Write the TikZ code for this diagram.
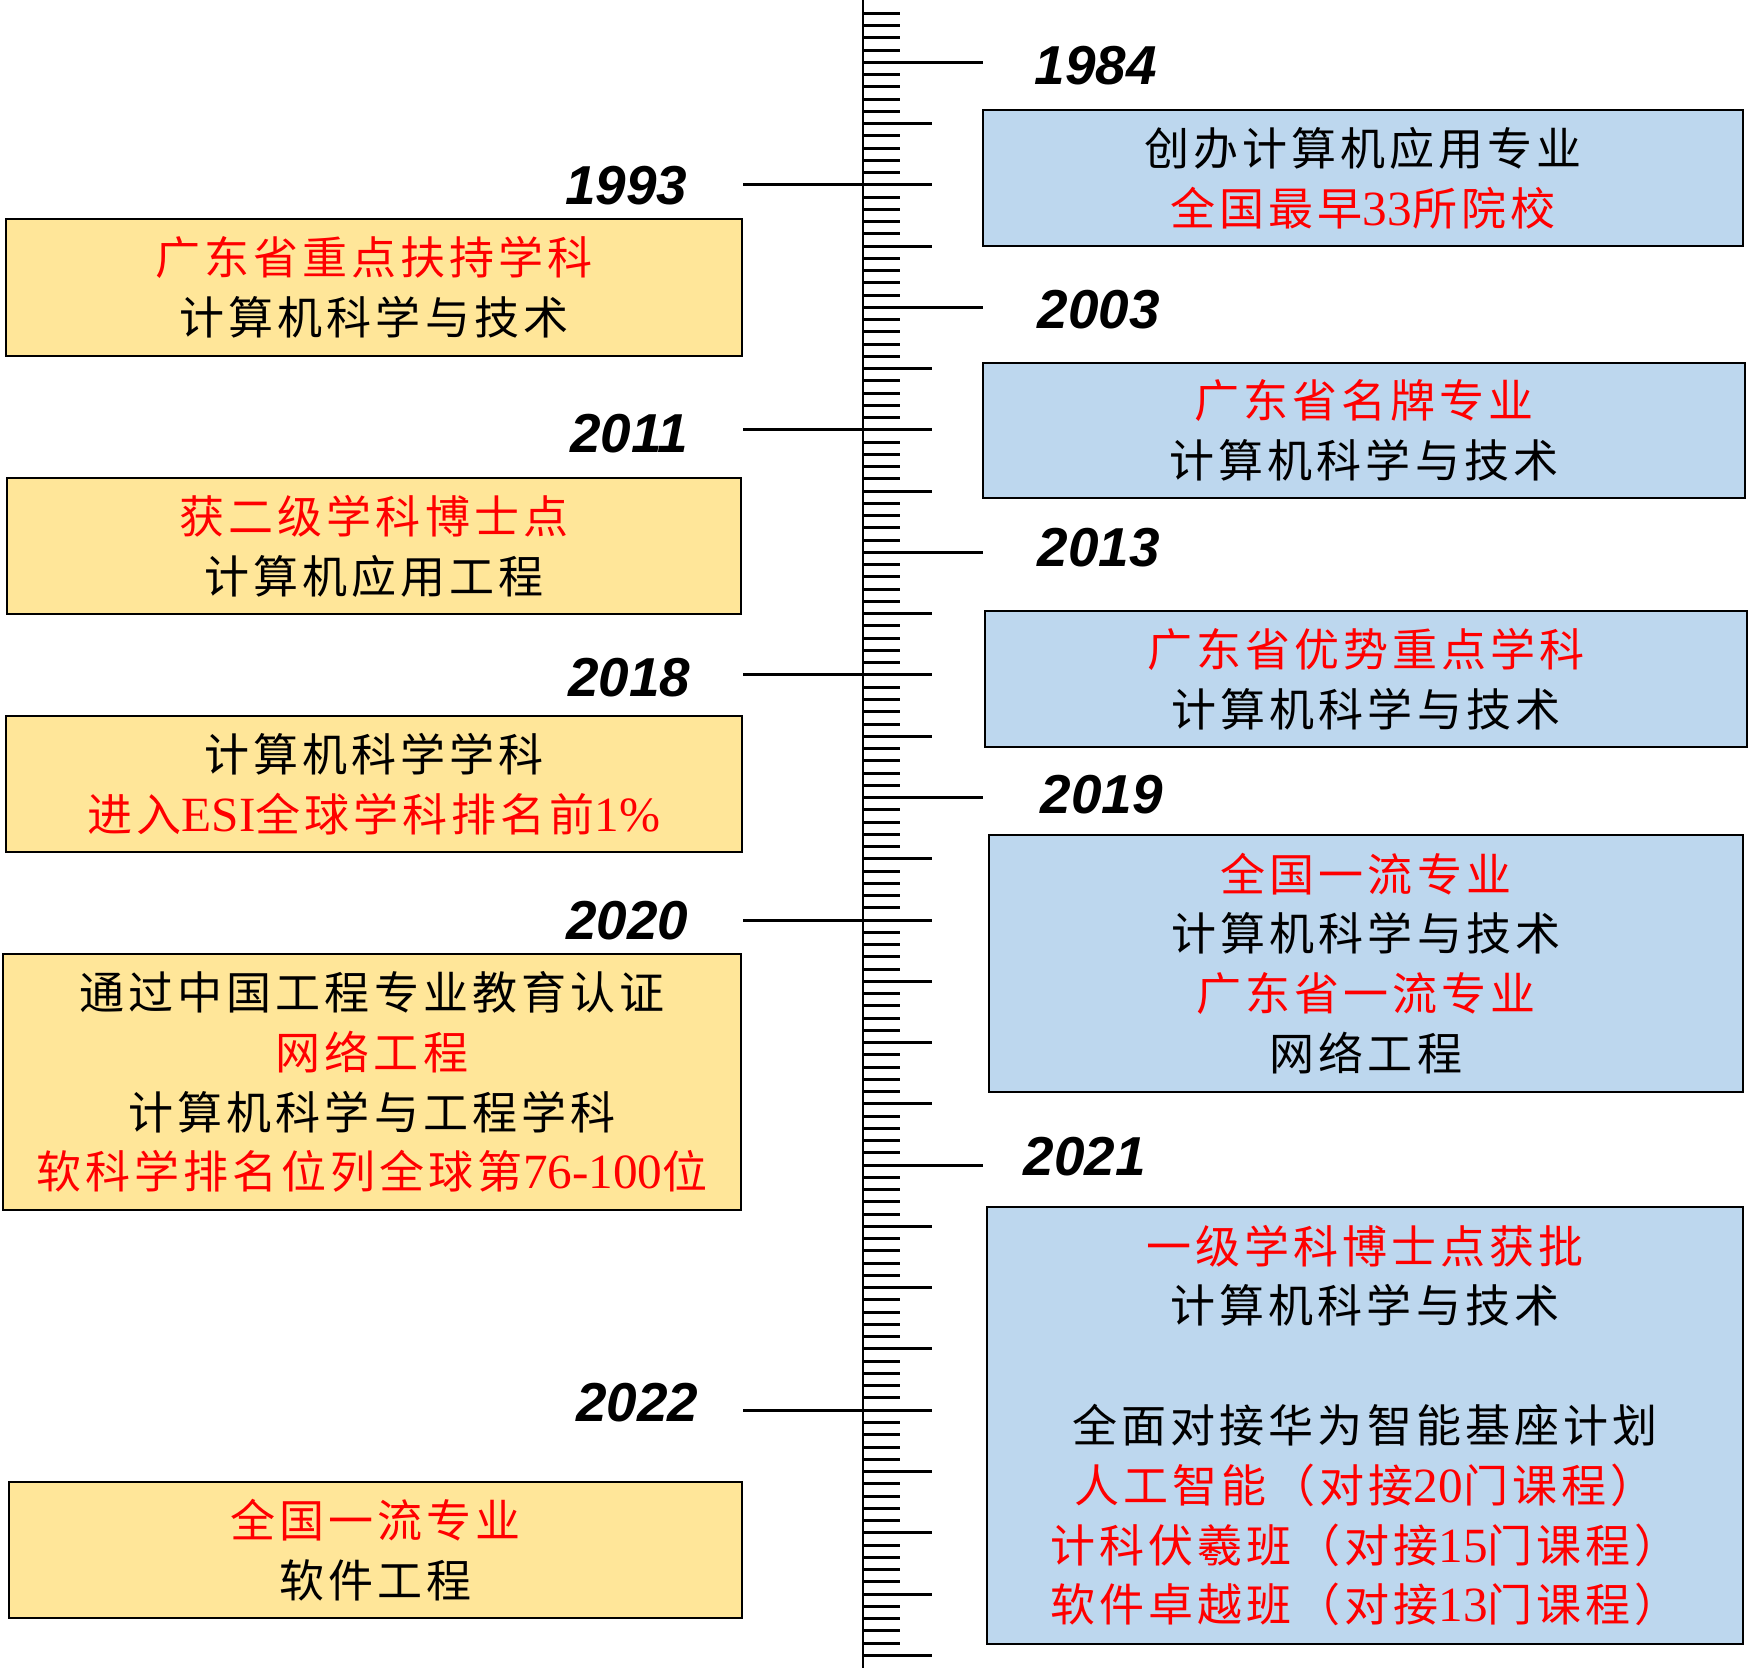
\documentclass[tikz,border=0pt]{standalone}
\usepackage{fontspec}
\newfontfamily\cjk[LetterSpace=9]{Noto Sans CJK SC}
\newfontfamily\yearfont{Liberation Sans}
\newfontfamily\latin{Liberation Serif}
\definecolor{boxblue}{RGB}{189,215,238}
\definecolor{boxyellow}{RGB}{255,230,153}
\newcommand{\lat}[1]{{\latin\fontsize{14}{17}\selectfont #1}}
\newcommand{\hl}[1]{\textcolor{red}{#1}}
\tikzset{
    rule/.style = {line width=0.85pt},
    entry/.style = {draw, line width=0.6pt, align=center, inner sep=0pt,
        font=\cjk\fontsize{12.8}{17}\selectfont},
    rightentry/.style = {entry, fill=boxblue},
    leftentry/.style = {entry, fill=boxyellow},
    year/.style = {inner sep=0pt, font=\yearfont\bfseries\itshape\fontsize{15.6}{17}\selectfont}
}
\begin{document}
\begin{tikzpicture}[x=0.01cm, y=-0.01cm]
    \useasboundingbox (0,0) rectangle (1750,1671);
    \def\rulex{863}
    \draw[rule] (\rulex,0) -- (\rulex,1668);
    \foreach \i in {0,...,134}
    {
        \draw[rule] (\rulex, {13.3+12.254*\i}) -- (900, {13.3+12.254*\i});
    }
    \foreach \j in {0,...,26}
    {
        \draw[rule] (\rulex, {62.3+61.27*\j}) -- (932, {62.3+61.27*\j});
    }
    \foreach \yr/\j in {1984/0, 2003/4, 2013/8, 2019/12, 2021/18}
    {
        \coordinate (t\yr) at (\rulex, {62.3+61.27*\j});
        \coordinate (e\yr) at (983, {62.3+61.27*\j});
        \draw[rule] (t\yr) -- (e\yr);
    }
    \foreach \yr/\j in {1993/2, 2011/6, 2018/10, 2020/14, 2022/22}
    {
        \coordinate (t\yr) at (\rulex, {62.3+61.27*\j});
        \coordinate (e\yr) at (743, {62.3+61.27*\j});
        \draw[rule] (e\yr) -- (t\yr);
    }

    \node[year, anchor=west] (y1984) at (1034,66) {1984};
    \node[year, anchor=west] (y2003) at (1037,310) {2003};
    \node[year, anchor=west] (y2013) at (1037,548) {2013};
    \node[year, anchor=west] (y2019) at (1040,795) {2019};
    \node[year, anchor=west] (y2021) at (1023,1157) {2021};
    \node[year, anchor=east] (y1993) at (688,186) {1993};
    \node[year, anchor=east] (y2011) at (689,434) {2011};
    \node[year, anchor=east] (y2018) at (691,678) {2018};
    \node[year, anchor=east] (y2020) at (689,921) {2020};
    \node[year, anchor=east] (y2022) at (699,1403) {2022};

    \node[rightentry, minimum width=7.60cm, minimum height=1.36cm] (b1984) at (1363,178)
        {创办计算机应用专业\\\hl{全国最早\lat{33}所院校}};
    \node[rightentry, minimum width=7.62cm, minimum height=1.35cm] (b2003) at (1364,430.5)
        {\hl{广东省名牌专业}\\计算机科学与技术};
    \node[rightentry, minimum width=7.61cm, minimum height=1.36cm] (b2013) at (1366,679)
        {\hl{广东省优势重点学科}\\计算机科学与技术};
    \node[rightentry, minimum width=7.54cm, minimum height=2.57cm] (b2019) at (1366,963.5)
        {\hl{全国一流专业}\\计算机科学与技术\\\hl{广东省一流专业}\\网络工程};
    \node[rightentry, minimum width=7.56cm, minimum height=4.37cm] (b2021) at (1365,1425.5)
        {\hl{一级学科博士点获批}\\计算机科学与技术\\[17pt]全面对接华为智能基座计划\\
         \hl{人工智能（对接\lat{20}门课程）}\\\hl{计科伏羲班（对接\lat{15}门课程）}\\
         \hl{软件卓越班（对接\lat{13}门课程）}};

    \node[leftentry, minimum width=7.36cm, minimum height=1.37cm] (b1993) at (374,287.5)
        {\hl{广东省重点扶持学科}\\计算机科学与技术};
    \node[leftentry, minimum width=7.34cm, minimum height=1.36cm] (b2011) at (374,546)
        {\hl{获二级学科博士点}\\计算机应用工程};
    \node[leftentry, minimum width=7.36cm, minimum height=1.36cm] (b2018) at (374,784)
        {计算机科学学科\\\hl{进入\lat{ESI}全球学科排名前\lat{1\%}}};
    \node[leftentry, minimum width=7.38cm, minimum height=2.56cm] (b2020) at (372,1082)
        {通过中国工程专业教育认证\\\hl{网络工程}\\计算机科学与工程学科\\
         \hl{软科学排名位列全球第\lat{76-100}位}};
    \node[leftentry, minimum width=7.33cm, minimum height=1.36cm] (b2022) at (375.5,1550)
        {\hl{全国一流专业}\\软件工程};
\end{tikzpicture}
\end{document}
